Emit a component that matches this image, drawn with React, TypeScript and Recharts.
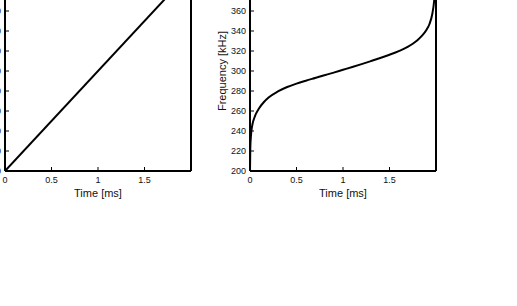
import React from 'react';
import { LineChart, Line, XAxis, YAxis } from 'recharts';

// Time axis (ms) and frequency axis (kHz) ticks
const timeTicks = [0, 0.5, 1, 1.5];
const freqTicks = [200, 220, 240, 260, 280, 300, 320, 340, 360, 380, 400];

// Linear sweep: frequency rises evenly over the pulse
const linearTime = [0, 2];
const linearFreq = [200, 400];

// Nonlinear sweep: fast at both ends, slow through the middle
const chirpTime = [0, 0.003, 0.01, 0.025, 0.05, 0.1, 0.15, 0.2, 0.3, 0.4, 0.5, 0.6, 0.7, 0.8, 0.9, 1.0, 1.1, 1.2, 1.3, 1.4, 1.5, 1.6, 1.7, 1.75, 1.8, 1.85, 1.9, 1.93, 1.96, 1.98, 1.99, 2.0];
const chirpFreq = [200, 222, 235, 246, 254, 263, 269, 273.5, 279.6, 284, 287.4, 290.3, 293, 295.7, 298.4, 301.2, 304, 306.9, 309.9, 313, 316.3, 319.9, 324.3, 327.3, 330.8, 335.3, 341.5, 347, 357, 370, 382, 400];

const FONT = '"Liberation Sans", Arial, Helvetica, sans-serif';
const INK = '#000';

const toRows = (t: number[], f: number[]) => t.map((v, i) => ({ t: v, f: f[i] }));

type PanelProps = {
  rows: { t: number; f: number }[];
  left: number;
  yLabel?: string;
};

function Panel({ rows, left, yLabel }: PanelProps) {
  const tickStyle = { fontSize: 9, fill: '#111', fontFamily: FONT };
  const axisLine = { stroke: INK, strokeWidth: 2 };
  const tickLine = { stroke: INK, strokeWidth: 1 };
  return (
    <div style={{ position: 'absolute', left, top: -34 }}>
      <LineChart width={231} height={235} data={rows} margin={{ top: 5, right: 0, left: 0, bottom: 0 }}>
        <XAxis
          dataKey="t"
          type="number"
          domain={[0, 2]}
          ticks={timeTicks}
          allowDataOverflow
          height={30}
          tickSize={-4}
          tickMargin={10}
          tick={tickStyle}
          axisLine={axisLine}
          tickLine={tickLine}
          interval={0}
          label={{ value: 'Time [ms]', position: 'insideBottom', offset: 4, style: { fontSize: 11, fill: '#111', fontFamily: FONT } }}
        />
        <YAxis
          yAxisId="l"
          type="number"
          domain={[200, 400]}
          ticks={freqTicks}
          allowDataOverflow
          width={40}
          tickSize={-4}
          tickMargin={8}
          tick={tickStyle}
          axisLine={axisLine}
          tickLine={tickLine}
          interval={0}
          label={
            yLabel
              ? { value: yLabel, angle: -90, position: 'insideLeft', offset: 12, style: { textAnchor: 'middle', fontSize: 11, fill: '#111', fontFamily: FONT } }
              : undefined
          }
        />
        <YAxis
          yAxisId="r"
          orientation="right"
          type="number"
          domain={[200, 400]}
          ticks={freqTicks}
          allowDataOverflow
          width={5}
          tickSize={-4}
          tick={false}
          axisLine={axisLine}
          tickLine={tickLine}
          interval={0}
        />
        <Line
          yAxisId="l"
          dataKey="f"
          type="monotone"
          stroke={INK}
          strokeWidth={2}
          dot={false}
          activeDot={false}
          isAnimationActive={false}
        />
      </LineChart>
    </div>
  );
}

export default function App() {
  return (
    <div
      style={{
        position: 'absolute',
        left: 0,
        top: 0,
        width: 517,
        height: 306,
        overflow: 'hidden',
        background: '#fff',
      }}
    >
      <Panel rows={toRows(linearTime, linearFreq)} left={-35} />
      <Panel rows={toRows(chirpTime, chirpFreq)} left={210} yLabel="Frequency [kHz]" />
    </div>
  );
}
